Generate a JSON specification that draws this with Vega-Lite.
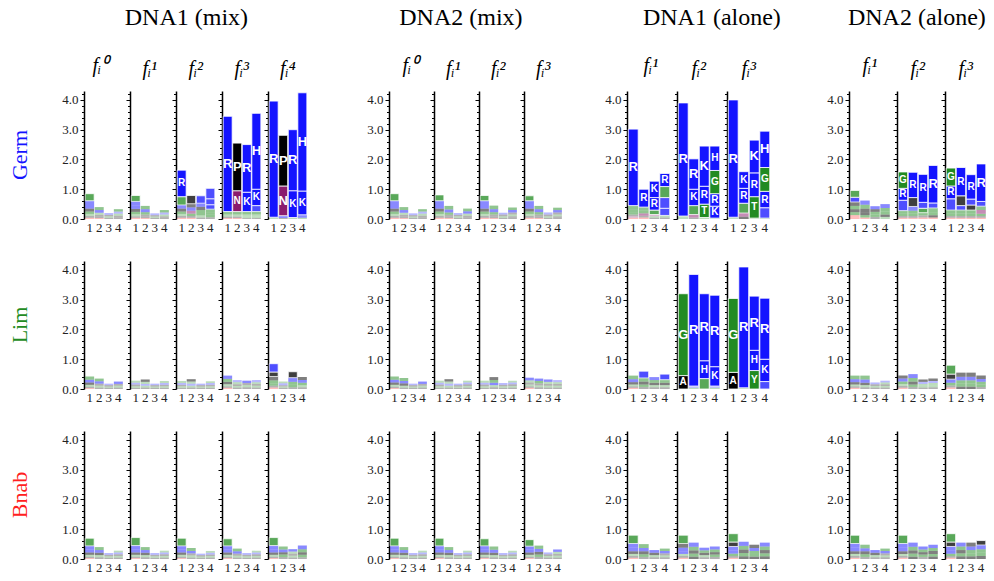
{
"$schema": "https://vega.github.io/schema/vega-lite/v6.json",
"background": "white",
"padding": {"left": 8, "top": 5, "right": 3, "bottom": 3},
"data": {"values": [
{"g":"m1","r":"Germ","f":0,"p":1,"a":["E","A","S","T","V","K","R","G"],"h":[0.04,0.06,0.07,0.08,0.1,0.12,0.14,0.24]},
{"g":"m1","r":"Germ","f":0,"p":2,"a":["D","A","V","S","R","G"],"h":[0.03,0.05,0.06,0.07,0.09,0.1]},
{"g":"m1","r":"Germ","f":0,"p":3,"a":["A","S","L","R"],"h":[0.04,0.05,0.05,0.06]},
{"g":"m1","r":"Germ","f":0,"p":4,"a":["A","L","S","R","G"],"h":[0.05,0.06,0.07,0.07,0.08]},
{"g":"m1","r":"Germ","f":1,"p":1,"a":["E","A","S","T","V","K","R","G"],"h":[0.04,0.05,0.07,0.08,0.1,0.12,0.13,0.2]},
{"g":"m1","r":"Germ","f":1,"p":2,"a":["D","A","V","S","R","G"],"h":[0.03,0.05,0.07,0.08,0.1,0.11]},
{"g":"m1","r":"Germ","f":1,"p":3,"a":["A","S","L","R"],"h":[0.04,0.04,0.05,0.06]},
{"g":"m1","r":"Germ","f":1,"p":4,"a":["A","L","S","R","G"],"h":[0.04,0.05,0.06,0.07,0.08]},
{"g":"m1","r":"Germ","f":2,"p":1,"a":["E","A","S","T","V","K","G","R"],"h":[0.04,0.06,0.07,0.08,0.1,0.12,0.28,0.89]},
{"g":"m1","r":"Germ","f":2,"p":2,"a":["D","A","S","N","K","V","P"],"h":[0.04,0.06,0.08,0.1,0.11,0.12,0.28]},
{"g":"m1","r":"Germ","f":2,"p":3,"a":["A","S","T","G","V","K","R"],"h":[0.05,0.07,0.08,0.1,0.11,0.12,0.25]},
{"g":"m1","r":"Germ","f":2,"p":4,"a":["A","S","T","G","K","R","H"],"h":[0.06,0.08,0.09,0.1,0.15,0.2,0.35]},
{"g":"m1","r":"Germ","f":3,"p":1,"a":["E","A","S","G","R"],"h":[0.03,0.05,0.07,0.1,3.2]},
{"g":"m1","r":"Germ","f":3,"p":2,"a":["D","A","S","G","N","P"],"h":[0.03,0.05,0.07,0.1,0.7,1.6]},
{"g":"m1","r":"Germ","f":3,"p":3,"a":["A","S","T","G","K","R"],"h":[0.03,0.05,0.07,0.1,0.65,1.6]},
{"g":"m1","r":"Germ","f":3,"p":4,"a":["A","S","G","T","R","K","H"],"h":[0.03,0.05,0.07,0.1,0.2,0.55,2.55]},
{"g":"m1","r":"Germ","f":4,"p":1,"a":["S","G","R"],"h":[0.02,0.04,3.9]},
{"g":"m1","r":"Germ","f":4,"p":2,"a":["A","H","N","P"],"h":[0.03,0.08,1.0,1.7]},
{"g":"m1","r":"Germ","f":4,"p":3,"a":["S","K","R"],"h":[0.05,0.9,2.05]},
{"g":"m1","r":"Germ","f":4,"p":4,"a":["S","R","K","H"],"h":[0.04,0.1,0.8,3.3]},
{"g":"m2","r":"Germ","f":0,"p":1,"a":["E","A","S","T","V","K","R","G"],"h":[0.04,0.06,0.07,0.08,0.1,0.12,0.14,0.24]},
{"g":"m2","r":"Germ","f":0,"p":2,"a":["D","A","V","S","R","G"],"h":[0.03,0.05,0.06,0.07,0.09,0.1]},
{"g":"m2","r":"Germ","f":0,"p":3,"a":["A","S","L","R"],"h":[0.04,0.04,0.05,0.06]},
{"g":"m2","r":"Germ","f":0,"p":4,"a":["A","L","S","R","G"],"h":[0.05,0.06,0.07,0.07,0.08]},
{"g":"m2","r":"Germ","f":1,"p":1,"a":["E","A","S","T","V","K","R","G"],"h":[0.04,0.06,0.07,0.08,0.1,0.12,0.14,0.2]},
{"g":"m2","r":"Germ","f":1,"p":2,"a":["D","A","V","S","R","G"],"h":[0.03,0.05,0.06,0.08,0.1,0.12]},
{"g":"m2","r":"Germ","f":1,"p":3,"a":["A","S","L","R"],"h":[0.04,0.05,0.05,0.06]},
{"g":"m2","r":"Germ","f":1,"p":4,"a":["A","L","S","R","G"],"h":[0.05,0.06,0.07,0.08,0.09]},
{"g":"m2","r":"Germ","f":2,"p":1,"a":["E","A","S","T","V","K","R","G"],"h":[0.04,0.06,0.07,0.08,0.1,0.12,0.14,0.18]},
{"g":"m2","r":"Germ","f":2,"p":2,"a":["D","A","V","S","R","G"],"h":[0.03,0.05,0.07,0.08,0.1,0.12]},
{"g":"m2","r":"Germ","f":2,"p":3,"a":["A","S","L","R"],"h":[0.04,0.05,0.06,0.06]},
{"g":"m2","r":"Germ","f":2,"p":4,"a":["A","L","S","V","R","G"],"h":[0.04,0.05,0.06,0.07,0.08,0.09]},
{"g":"m2","r":"Germ","f":3,"p":1,"a":["E","A","S","T","V","K","R","G"],"h":[0.04,0.06,0.07,0.08,0.1,0.12,0.14,0.17]},
{"g":"m2","r":"Germ","f":3,"p":2,"a":["D","A","V","S","R","G"],"h":[0.03,0.05,0.07,0.08,0.1,0.11]},
{"g":"m2","r":"Germ","f":3,"p":3,"a":["A","S","L","R"],"h":[0.04,0.05,0.06,0.07]},
{"g":"m2","r":"Germ","f":3,"p":4,"a":["A","L","S","V","R","G"],"h":[0.04,0.05,0.06,0.07,0.08,0.08]},
{"g":"a1","r":"Germ","f":1,"p":1,"a":["E","N","A","S","T","G","R"],"h":[0.04,0.05,0.06,0.08,0.1,0.12,2.57]},
{"g":"a1","r":"Germ","f":1,"p":2,"a":["D","A","N","S","G","R"],"h":[0.05,0.06,0.08,0.09,0.12,0.6]},
{"g":"a1","r":"Germ","f":1,"p":3,"a":["A","S","N","T","R","K"],"h":[0.04,0.05,0.06,0.15,0.42,0.55]},
{"g":"a1","r":"Germ","f":1,"p":4,"a":["A","S","K","H","G","R"],"h":[0.05,0.07,0.24,0.36,0.37,0.44]},
{"g":"a1","r":"Germ","f":2,"p":1,"a":["S","G","R"],"h":[0.04,0.06,3.8]},
{"g":"a1","r":"Germ","f":2,"p":2,"a":["A","N","S","K","R"],"h":[0.05,0.1,0.3,0.55,1.02]},
{"g":"a1","r":"Germ","f":2,"p":3,"a":["S","T","R","K"],"h":[0.05,0.45,0.6,1.35]},
{"g":"a1","r":"Germ","f":2,"p":4,"a":["S","K","R","G","H"],"h":[0.03,0.4,0.42,0.78,0.82]},
{"g":"a1","r":"Germ","f":3,"p":1,"a":["S","G","R"],"h":[0.02,0.04,3.94]},
{"g":"a1","r":"Germ","f":3,"p":2,"a":["A","N","S","R","K"],"h":[0.08,0.12,0.33,0.5,0.56]},
{"g":"a1","r":"Germ","f":3,"p":3,"a":["S","T","R","K"],"h":[0.03,0.72,0.8,1.1]},
{"g":"a1","r":"Germ","f":3,"p":4,"a":["S","K","R","G","H"],"h":[0.03,0.35,0.55,0.8,1.22]},
{"g":"a2","r":"Germ","f":1,"p":1,"a":["D","E","S","A","T","V","R","G"],"h":[0.06,0.07,0.1,0.1,0.11,0.13,0.16,0.23]},
{"g":"a2","r":"Germ","f":1,"p":2,"a":["D","S","A","V","G","R"],"h":[0.05,0.08,0.1,0.12,0.13,0.14]},
{"g":"a2","r":"Germ","f":1,"p":3,"a":["A","S","G","L","R"],"h":[0.07,0.08,0.09,0.09,0.1]},
{"g":"a2","r":"Germ","f":1,"p":4,"a":["S","A","T","G","R"],"h":[0.07,0.08,0.1,0.12,0.13]},
{"g":"a2","r":"Germ","f":2,"p":1,"a":["E","A","S","T","K","R","G"],"h":[0.04,0.06,0.08,0.1,0.35,0.4,0.55]},
{"g":"a2","r":"Germ","f":2,"p":2,"a":["D","A","S","G","K","V","R"],"h":[0.04,0.06,0.08,0.1,0.14,0.3,0.85]},
{"g":"a2","r":"Germ","f":2,"p":3,"a":["E","A","S","G","K","R"],"h":[0.05,0.07,0.09,0.15,0.2,0.94]},
{"g":"a2","r":"Germ","f":2,"p":4,"a":["D","A","S","G","K","R"],"h":[0.05,0.08,0.1,0.14,0.17,1.26]},
{"g":"a2","r":"Germ","f":3,"p":1,"a":["E","A","S","T","K","R","G"],"h":[0.04,0.06,0.08,0.12,0.38,0.43,0.6]},
{"g":"a2","r":"Germ","f":3,"p":2,"a":["D","A","S","G","K","V","R"],"h":[0.04,0.06,0.08,0.12,0.15,0.33,0.95]},
{"g":"a2","r":"Germ","f":3,"p":3,"a":["E","A","S","G","V","K","R"],"h":[0.04,0.06,0.08,0.12,0.17,0.2,0.82]},
{"g":"a2","r":"Germ","f":3,"p":4,"a":["D","A","S","N","G","K","R"],"h":[0.04,0.06,0.08,0.12,0.13,0.16,1.26]},
{"g":"m1","r":"Lim","f":0,"p":1,"a":["E","A","S","V","R","G"],"h":[0.03,0.05,0.06,0.08,0.09,0.11]},
{"g":"m1","r":"Lim","f":0,"p":2,"a":["A","S","V","R","G"],"h":[0.05,0.06,0.07,0.08,0.09]},
{"g":"m1","r":"Lim","f":0,"p":3,"a":["A","S","L","R"],"h":[0.04,0.04,0.05,0.05]},
{"g":"m1","r":"Lim","f":0,"p":4,"a":["A","S","L","R"],"h":[0.05,0.06,0.06,0.08]},
{"g":"m1","r":"Lim","f":1,"p":1,"a":["A","S","V","R","G"],"h":[0.04,0.05,0.06,0.06,0.07]},
{"g":"m1","r":"Lim","f":1,"p":2,"a":["A","S","R","G","V"],"h":[0.05,0.06,0.06,0.07,0.08]},
{"g":"m1","r":"Lim","f":1,"p":3,"a":["A","S","L","R"],"h":[0.04,0.04,0.05,0.05]},
{"g":"m1","r":"Lim","f":1,"p":4,"a":["A","S","L","R","G"],"h":[0.04,0.05,0.05,0.06,0.07]},
{"g":"m1","r":"Lim","f":2,"p":1,"a":["A","S","V","R","G"],"h":[0.04,0.05,0.05,0.06,0.07]},
{"g":"m1","r":"Lim","f":2,"p":2,"a":["A","S","R","G","V"],"h":[0.05,0.06,0.07,0.07,0.08]},
{"g":"m1","r":"Lim","f":2,"p":3,"a":["A","S","L","R"],"h":[0.04,0.04,0.05,0.05]},
{"g":"m1","r":"Lim","f":2,"p":4,"a":["A","S","L","R","G"],"h":[0.04,0.05,0.05,0.06,0.06]},
{"g":"m1","r":"Lim","f":3,"p":1,"a":["E","A","S","V","G","R"],"h":[0.04,0.05,0.07,0.08,0.1,0.11]},
{"g":"m1","r":"Lim","f":3,"p":2,"a":["A","S","V","G","R"],"h":[0.05,0.05,0.06,0.07,0.07]},
{"g":"m1","r":"Lim","f":3,"p":3,"a":["A","S","L","R"],"h":[0.06,0.07,0.07,0.08]},
{"g":"m1","r":"Lim","f":3,"p":4,"a":["A","S","V","G","R"],"h":[0.05,0.06,0.06,0.06,0.07]},
{"g":"m1","r":"Lim","f":4,"p":1,"a":["E","A","S","G","V","W","R"],"h":[0.05,0.06,0.08,0.1,0.13,0.15,0.28]},
{"g":"m1","r":"Lim","f":4,"p":2,"a":["A","S","V","R","G"],"h":[0.04,0.04,0.05,0.06,0.06]},
{"g":"m1","r":"Lim","f":4,"p":3,"a":["A","S","G","R","W"],"h":[0.06,0.08,0.1,0.14,0.2]},
{"g":"m1","r":"Lim","f":4,"p":4,"a":["A","S","G","R","W"],"h":[0.06,0.07,0.08,0.09,0.1]},
{"g":"m2","r":"Lim","f":0,"p":1,"a":["E","A","S","V","R","G"],"h":[0.03,0.05,0.06,0.08,0.09,0.11]},
{"g":"m2","r":"Lim","f":0,"p":2,"a":["A","S","V","R","G"],"h":[0.05,0.06,0.08,0.08,0.1]},
{"g":"m2","r":"Lim","f":0,"p":3,"a":["A","S","L","R"],"h":[0.04,0.04,0.05,0.05]},
{"g":"m2","r":"Lim","f":0,"p":4,"a":["A","S","L","R"],"h":[0.05,0.06,0.06,0.08]},
{"g":"m2","r":"Lim","f":1,"p":1,"a":["A","S","V","R","G"],"h":[0.04,0.05,0.06,0.06,0.07]},
{"g":"m2","r":"Lim","f":1,"p":2,"a":["A","S","R","G","V"],"h":[0.05,0.06,0.07,0.07,0.08]},
{"g":"m2","r":"Lim","f":1,"p":3,"a":["A","S","L","R"],"h":[0.04,0.04,0.05,0.05]},
{"g":"m2","r":"Lim","f":1,"p":4,"a":["A","S","L","R","G"],"h":[0.05,0.05,0.06,0.06,0.06]},
{"g":"m2","r":"Lim","f":2,"p":1,"a":["A","S","V","R","G"],"h":[0.04,0.05,0.06,0.06,0.07]},
{"g":"m2","r":"Lim","f":2,"p":2,"a":["A","S","R","G","V"],"h":[0.06,0.07,0.08,0.09,0.1]},
{"g":"m2","r":"Lim","f":2,"p":3,"a":["A","S","L","R"],"h":[0.04,0.05,0.05,0.06]},
{"g":"m2","r":"Lim","f":2,"p":4,"a":["A","S","L","R","G"],"h":[0.05,0.05,0.06,0.06,0.06]},
{"g":"m2","r":"Lim","f":3,"p":1,"a":["E","A","S","V","G","R"],"h":[0.04,0.05,0.06,0.07,0.07,0.09]},
{"g":"m2","r":"Lim","f":3,"p":2,"a":["A","S","V","G","R"],"h":[0.06,0.06,0.07,0.08,0.08]},
{"g":"m2","r":"Lim","f":3,"p":3,"a":["A","S","V","G","R"],"h":[0.05,0.06,0.06,0.07,0.08]},
{"g":"m2","r":"Lim","f":3,"p":4,"a":["A","S","V","G","R"],"h":[0.05,0.06,0.06,0.06,0.07]},
{"g":"a1","r":"Lim","f":1,"p":1,"a":["E","A","S","V","R","G"],"h":[0.04,0.05,0.06,0.08,0.1,0.12]},
{"g":"a1","r":"Lim","f":1,"p":2,"a":["A","S","V","G","R"],"h":[0.07,0.08,0.1,0.12,0.23]},
{"g":"a1","r":"Lim","f":1,"p":3,"a":["A","S","V","G","R"],"h":[0.06,0.07,0.08,0.09,0.1]},
{"g":"a1","r":"Lim","f":1,"p":4,"a":["A","S","V","G","R"],"h":[0.06,0.07,0.08,0.1,0.19]},
{"g":"a1","r":"Lim","f":2,"p":1,"a":["A","G"],"h":[0.45,2.75]},
{"g":"a1","r":"Lim","f":2,"p":2,"a":["S","H","R"],"h":[0.04,0.06,3.75]},
{"g":"a1","r":"Lim","f":2,"p":3,"a":["Y","H","R"],"h":[0.35,0.6,2.25]},
{"g":"a1","r":"Lim","f":2,"p":4,"a":["S","H","K","R"],"h":[0.04,0.06,0.65,2.4]},
{"g":"a1","r":"Lim","f":3,"p":1,"a":["A","G"],"h":[0.56,2.48]},
{"g":"a1","r":"Lim","f":3,"p":2,"a":["S","R"],"h":[0.04,4.06]},
{"g":"a1","r":"Lim","f":3,"p":3,"a":["Y","H","R"],"h":[0.62,0.68,1.82]},
{"g":"a1","r":"Lim","f":3,"p":4,"a":["H","K","R"],"h":[0.25,0.75,2.05]},
{"g":"a2","r":"Lim","f":1,"p":1,"a":["E","A","S","V","R","G"],"h":[0.04,0.05,0.06,0.08,0.1,0.12]},
{"g":"a2","r":"Lim","f":1,"p":2,"a":["A","S","V","R","G"],"h":[0.06,0.07,0.08,0.11,0.13]},
{"g":"a2","r":"Lim","f":1,"p":3,"a":["A","S","L","R"],"h":[0.05,0.05,0.06,0.06]},
{"g":"a2","r":"Lim","f":1,"p":4,"a":["A","S","L","G","R"],"h":[0.05,0.05,0.06,0.06,0.06]},
{"g":"a2","r":"Lim","f":2,"p":1,"a":["E","A","S","G","R","V"],"h":[0.04,0.06,0.07,0.08,0.1,0.1]},
{"g":"a2","r":"Lim","f":2,"p":2,"a":["A","S","V","G","R"],"h":[0.07,0.08,0.1,0.12,0.13]},
{"g":"a2","r":"Lim","f":2,"p":3,"a":["A","S","G","R","V"],"h":[0.05,0.06,0.06,0.07,0.08]},
{"g":"a2","r":"Lim","f":2,"p":4,"a":["A","S","G","R","V"],"h":[0.06,0.07,0.07,0.07,0.08]},
{"g":"a2","r":"Lim","f":3,"p":1,"a":["E","A","S","R","V","G"],"h":[0.05,0.07,0.09,0.12,0.17,0.3]},
{"g":"a2","r":"Lim","f":3,"p":2,"a":["A","S","G","R","V"],"h":[0.08,0.1,0.11,0.12,0.14]},
{"g":"a2","r":"Lim","f":3,"p":3,"a":["A","S","G","R","V"],"h":[0.08,0.1,0.11,0.12,0.14]},
{"g":"a2","r":"Lim","f":3,"p":4,"a":["A","S","G","R","V"],"h":[0.07,0.08,0.09,0.1,0.11]},
{"g":"m1","r":"Bnab","f":0,"p":1,"a":["E","A","S","V","K","R","G"],"h":[0.03,0.05,0.06,0.08,0.1,0.12,0.26]},
{"g":"m1","r":"Bnab","f":0,"p":2,"a":["A","S","V","R","G"],"h":[0.06,0.07,0.08,0.09,0.1]},
{"g":"m1","r":"Bnab","f":0,"p":3,"a":["A","S","L","R"],"h":[0.04,0.05,0.05,0.06]},
{"g":"m1","r":"Bnab","f":0,"p":4,"a":["A","S","L","R","G"],"h":[0.05,0.05,0.06,0.06,0.06]},
{"g":"m1","r":"Bnab","f":1,"p":1,"a":["E","A","S","V","K","R","G"],"h":[0.03,0.05,0.06,0.08,0.1,0.13,0.27]},
{"g":"m1","r":"Bnab","f":1,"p":2,"a":["A","S","V","R","G"],"h":[0.06,0.07,0.08,0.09,0.1]},
{"g":"m1","r":"Bnab","f":1,"p":3,"a":["A","S","L","R"],"h":[0.04,0.05,0.05,0.06]},
{"g":"m1","r":"Bnab","f":1,"p":4,"a":["A","S","L","R","G"],"h":[0.05,0.05,0.06,0.06,0.06]},
{"g":"m1","r":"Bnab","f":2,"p":1,"a":["E","A","S","V","K","R","G"],"h":[0.03,0.05,0.06,0.08,0.1,0.12,0.26]},
{"g":"m1","r":"Bnab","f":2,"p":2,"a":["A","S","V","R","G"],"h":[0.05,0.07,0.07,0.08,0.1]},
{"g":"m1","r":"Bnab","f":2,"p":3,"a":["A","S","L","R"],"h":[0.04,0.04,0.05,0.05]},
{"g":"m1","r":"Bnab","f":2,"p":4,"a":["A","S","L","R","G"],"h":[0.05,0.05,0.05,0.06,0.06]},
{"g":"m1","r":"Bnab","f":3,"p":1,"a":["E","A","S","V","K","R","G"],"h":[0.03,0.05,0.06,0.08,0.1,0.12,0.24]},
{"g":"m1","r":"Bnab","f":3,"p":2,"a":["A","S","V","R","G"],"h":[0.05,0.06,0.07,0.08,0.09]},
{"g":"m1","r":"Bnab","f":3,"p":3,"a":["A","S","L","R"],"h":[0.04,0.05,0.05,0.06]},
{"g":"m1","r":"Bnab","f":3,"p":4,"a":["A","S","L","R","G"],"h":[0.05,0.05,0.06,0.06,0.06]},
{"g":"m1","r":"Bnab","f":4,"p":1,"a":["E","A","S","V","K","R","G"],"h":[0.03,0.05,0.06,0.08,0.1,0.13,0.27]},
{"g":"m1","r":"Bnab","f":4,"p":2,"a":["A","S","V","R","G"],"h":[0.07,0.08,0.08,0.09,0.1]},
{"g":"m1","r":"Bnab","f":4,"p":3,"a":["A","S","V","G","R"],"h":[0.05,0.06,0.07,0.07,0.08]},
{"g":"m1","r":"Bnab","f":4,"p":4,"a":["A","S","V","G","K"],"h":[0.06,0.08,0.09,0.1,0.12]},
{"g":"m2","r":"Bnab","f":0,"p":1,"a":["E","A","S","V","K","R","G"],"h":[0.03,0.05,0.06,0.08,0.1,0.12,0.26]},
{"g":"m2","r":"Bnab","f":0,"p":2,"a":["A","S","V","R","G"],"h":[0.06,0.07,0.08,0.09,0.1]},
{"g":"m2","r":"Bnab","f":0,"p":3,"a":["A","S","L","R"],"h":[0.04,0.05,0.05,0.06]},
{"g":"m2","r":"Bnab","f":0,"p":4,"a":["A","S","L","R","G"],"h":[0.05,0.05,0.06,0.06,0.06]},
{"g":"m2","r":"Bnab","f":1,"p":1,"a":["E","A","S","V","K","R","G"],"h":[0.03,0.05,0.06,0.08,0.1,0.12,0.26]},
{"g":"m2","r":"Bnab","f":1,"p":2,"a":["A","S","V","R","G"],"h":[0.06,0.07,0.08,0.09,0.1]},
{"g":"m2","r":"Bnab","f":1,"p":3,"a":["A","S","L","R"],"h":[0.04,0.05,0.05,0.06]},
{"g":"m2","r":"Bnab","f":1,"p":4,"a":["A","S","L","R","G"],"h":[0.05,0.05,0.06,0.06,0.06]},
{"g":"m2","r":"Bnab","f":2,"p":1,"a":["E","A","S","V","K","R","G"],"h":[0.03,0.05,0.06,0.08,0.1,0.12,0.24]},
{"g":"m2","r":"Bnab","f":2,"p":2,"a":["A","S","V","R","G"],"h":[0.06,0.07,0.08,0.1,0.11]},
{"g":"m2","r":"Bnab","f":2,"p":3,"a":["A","S","L","R"],"h":[0.04,0.05,0.05,0.06]},
{"g":"m2","r":"Bnab","f":2,"p":4,"a":["A","S","L","R","G"],"h":[0.05,0.05,0.06,0.06,0.06]},
{"g":"m2","r":"Bnab","f":3,"p":1,"a":["E","A","S","V","K","R","G"],"h":[0.03,0.05,0.06,0.08,0.1,0.11,0.22]},
{"g":"m2","r":"Bnab","f":3,"p":2,"a":["A","S","V","R","G"],"h":[0.07,0.08,0.09,0.1,0.11]},
{"g":"m2","r":"Bnab","f":3,"p":3,"a":["A","S","L","R"],"h":[0.05,0.05,0.06,0.06]},
{"g":"m2","r":"Bnab","f":3,"p":4,"a":["A","S","V","G","R"],"h":[0.05,0.06,0.06,0.07,0.08]},
{"g":"a1","r":"Bnab","f":1,"p":1,"a":["E","A","S","V","K","R","G"],"h":[0.04,0.06,0.07,0.09,0.12,0.14,0.28]},
{"g":"a1","r":"Bnab","f":1,"p":2,"a":["A","S","V","R","G"],"h":[0.07,0.09,0.1,0.11,0.13]},
{"g":"a1","r":"Bnab","f":1,"p":3,"a":["A","S","L","R"],"h":[0.06,0.07,0.08,0.09]},
{"g":"a1","r":"Bnab","f":1,"p":4,"a":["A","S","L","R","G"],"h":[0.06,0.06,0.07,0.08,0.08]},
{"g":"a1","r":"Bnab","f":2,"p":1,"a":["E","A","S","K","R","V","G"],"h":[0.04,0.06,0.07,0.09,0.12,0.14,0.28]},
{"g":"a1","r":"Bnab","f":2,"p":2,"a":["A","S","V","G","R"],"h":[0.08,0.1,0.11,0.12,0.14]},
{"g":"a1","r":"Bnab","f":2,"p":3,"a":["A","S","V","G","R"],"h":[0.06,0.07,0.08,0.08,0.09]},
{"g":"a1","r":"Bnab","f":2,"p":4,"a":["A","S","V","G","R"],"h":[0.07,0.08,0.08,0.09,0.1]},
{"g":"a1","r":"Bnab","f":3,"p":1,"a":["E","A","S","K","R","V","G"],"h":[0.04,0.06,0.08,0.1,0.14,0.15,0.28]},
{"g":"a1","r":"Bnab","f":3,"p":2,"a":["A","S","V","G","R"],"h":[0.09,0.11,0.12,0.12,0.14]},
{"g":"a1","r":"Bnab","f":3,"p":3,"a":["A","S","G","R","V"],"h":[0.08,0.09,0.1,0.1,0.11]},
{"g":"a1","r":"Bnab","f":3,"p":4,"a":["A","S","V","G","R"],"h":[0.09,0.1,0.11,0.12,0.13]},
{"g":"a2","r":"Bnab","f":1,"p":1,"a":["E","A","S","V","K","R","G"],"h":[0.04,0.06,0.07,0.09,0.12,0.14,0.28]},
{"g":"a2","r":"Bnab","f":1,"p":2,"a":["A","S","V","R","G"],"h":[0.07,0.09,0.1,0.1,0.12]},
{"g":"a2","r":"Bnab","f":1,"p":3,"a":["A","S","L","R"],"h":[0.06,0.07,0.08,0.09]},
{"g":"a2","r":"Bnab","f":1,"p":4,"a":["A","S","L","R","G"],"h":[0.06,0.06,0.07,0.08,0.08]},
{"g":"a2","r":"Bnab","f":2,"p":1,"a":["E","A","S","V","K","R","G"],"h":[0.04,0.06,0.07,0.09,0.12,0.14,0.28]},
{"g":"a2","r":"Bnab","f":2,"p":2,"a":["A","S","V","G","R"],"h":[0.08,0.1,0.11,0.12,0.14]},
{"g":"a2","r":"Bnab","f":2,"p":3,"a":["A","S","V","G","R"],"h":[0.07,0.08,0.08,0.09,0.1]},
{"g":"a2","r":"Bnab","f":2,"p":4,"a":["A","S","V","G","R"],"h":[0.08,0.09,0.1,0.1,0.11]},
{"g":"a2","r":"Bnab","f":3,"p":1,"a":["E","A","S","K","R","V","G"],"h":[0.04,0.06,0.08,0.1,0.14,0.15,0.28]},
{"g":"a2","r":"Bnab","f":3,"p":2,"a":["A","S","V","G","R"],"h":[0.09,0.1,0.11,0.12,0.13]},
{"g":"a2","r":"Bnab","f":3,"p":3,"a":["A","S","G","R","V"],"h":[0.09,0.1,0.11,0.12,0.13]},
{"g":"a2","r":"Bnab","f":3,"p":4,"a":["A","S","G","R","V"],"h":[0.1,0.11,0.12,0.14,0.15]}
]},
"transform": [
  {"flatten": ["a", "h"]},
  {"stack": "h", "groupby": ["g", "r", "f", "p"], "sort": [{"field": "h", "order": "ascending"}], "as": ["y0", "y1"]},
  {"calculate": "(datum.y0 + datum.y1) / 2", "as": "ym"}
],
"spacing": 41,
"hconcat": [
 {"spacing": 58, "hconcat": [
  {"title": {"text": "DNA1 (mix)", "font": "Liberation Serif", "fontSize": 24, "offset": 26, "dx": 28}, "spacing": 1, "hconcat": [
   {"title": {"text": "fᵢ⁰", "font": "Liberation Serif", "fontSize": 20, "fontStyle": "italic", "offset": 12, "dx": 34}, "transform": [{"filter": "datum.g == 'm1' && datum.f == 0"}],
    "facet": {"row": {"field": "r", "type": "nominal", "title": null, "sort": ["Germ", "Lim", "Bnab"], "header": {"labelColor": {"expr": "parent.r == 'Germ' ? '#1414ff' : parent.r == 'Lim' ? '#228b22' : '#ff2020'"}, "labelPadding": 30}}},
    "spacing": {"row": 27}, "resolve": {"axis": {"x": "independent"}},
    "spec": {"width": 40, "height": 128,
     "encoding": {"x": {"field": "p", "type": "ordinal", "title": null, "axis": {"labelFont": "Liberation Serif"}}, "y": {"field": "y0", "type": "quantitative", "title": null, "scale": {"domain": [0, 4.3], "nice": false}, "axis": {"labelFont": "Liberation Serif"}}},
     "layer": [
      {"mark": {"type": "bar", "stroke": "white"}, "encoding": {"y2": {"field": "y1"}, "color": {"field": "a", "type": "nominal", "legend": null, "scale": {"domain": ["A","V","L","W","P","G","S","T","Y","N","K","R","H","D","E"], "range": ["#000000","#000000","#000000","#000000","#000000","#228b22","#228b22","#228b22","#228b22","#8b1c6e","#1414ff","#1414ff","#1414ff","#ff2020","#ff2020"]}}, "opacity": {"condition": [{"test": "datum.h < 0.08", "value": 0.3}, {"test": "datum.h < 0.15", "value": 0.5}, {"test": "datum.h < 0.4", "value": 0.75}], "value": 1}, "strokeWidth": {"condition": {"test": "datum.h >= 0.15", "value": 0.8}, "value": 0}}},
      {"transform": [{"filter": "datum.h >= 0.4"}], "mark": {"type": "text", "font": "Liberation Sans", "fontWeight": "bold", "fill": "white"}, "encoding": {"y": {"field": "ym", "type": "quantitative", "title": null}, "text": {"field": "a"}, "size": {"condition": {"test": "datum.h >= 1", "value": 13}, "value": 10}}}
     ]}},
   {"title": {"text": "fᵢ¹", "font": "Liberation Serif", "fontSize": 20, "fontStyle": "italic", "offset": 12, "dx": 2}, "transform": [{"filter": "datum.g == 'm1' && datum.f == 1"}],
    "facet": {"row": {"field": "r", "type": "nominal", "title": null, "sort": ["Germ", "Lim", "Bnab"], "header": {"labels": false}}},
    "spacing": {"row": 27}, "resolve": {"axis": {"x": "independent"}},
    "spec": {"width": 40, "height": 128,
     "encoding": {"x": {"field": "p", "type": "ordinal", "title": null, "axis": {"labelFont": "Liberation Serif"}}, "y": {"field": "y0", "type": "quantitative", "title": null, "scale": {"domain": [0, 4.3], "nice": false}, "axis": {"labels": false}}},
     "layer": [
      {"mark": {"type": "bar", "stroke": "white"}, "encoding": {"y2": {"field": "y1"}, "color": {"field": "a", "type": "nominal", "legend": null, "scale": {"domain": ["A","V","L","W","P","G","S","T","Y","N","K","R","H","D","E"], "range": ["#000000","#000000","#000000","#000000","#000000","#228b22","#228b22","#228b22","#228b22","#8b1c6e","#1414ff","#1414ff","#1414ff","#ff2020","#ff2020"]}}, "opacity": {"condition": [{"test": "datum.h < 0.08", "value": 0.3}, {"test": "datum.h < 0.15", "value": 0.5}, {"test": "datum.h < 0.4", "value": 0.75}], "value": 1}, "strokeWidth": {"condition": {"test": "datum.h >= 0.15", "value": 0.8}, "value": 0}}},
      {"transform": [{"filter": "datum.h >= 0.4"}], "mark": {"type": "text", "font": "Liberation Sans", "fontWeight": "bold", "fill": "white"}, "encoding": {"y": {"field": "ym", "type": "quantitative", "title": null}, "text": {"field": "a"}, "size": {"condition": {"test": "datum.h >= 1", "value": 13}, "value": 10}}}
     ]}},
   {"title": {"text": "fᵢ²", "font": "Liberation Serif", "fontSize": 20, "fontStyle": "italic", "offset": 12, "dx": 2}, "transform": [{"filter": "datum.g == 'm1' && datum.f == 2"}],
    "facet": {"row": {"field": "r", "type": "nominal", "title": null, "sort": ["Germ", "Lim", "Bnab"], "header": {"labels": false}}},
    "spacing": {"row": 27}, "resolve": {"axis": {"x": "independent"}},
    "spec": {"width": 40, "height": 128,
     "encoding": {"x": {"field": "p", "type": "ordinal", "title": null, "axis": {"labelFont": "Liberation Serif"}}, "y": {"field": "y0", "type": "quantitative", "title": null, "scale": {"domain": [0, 4.3], "nice": false}, "axis": {"labels": false}}},
     "layer": [
      {"mark": {"type": "bar", "stroke": "white"}, "encoding": {"y2": {"field": "y1"}, "color": {"field": "a", "type": "nominal", "legend": null, "scale": {"domain": ["A","V","L","W","P","G","S","T","Y","N","K","R","H","D","E"], "range": ["#000000","#000000","#000000","#000000","#000000","#228b22","#228b22","#228b22","#228b22","#8b1c6e","#1414ff","#1414ff","#1414ff","#ff2020","#ff2020"]}}, "opacity": {"condition": [{"test": "datum.h < 0.08", "value": 0.3}, {"test": "datum.h < 0.15", "value": 0.5}, {"test": "datum.h < 0.4", "value": 0.75}], "value": 1}, "strokeWidth": {"condition": {"test": "datum.h >= 0.15", "value": 0.8}, "value": 0}}},
      {"transform": [{"filter": "datum.h >= 0.4"}], "mark": {"type": "text", "font": "Liberation Sans", "fontWeight": "bold", "fill": "white"}, "encoding": {"y": {"field": "ym", "type": "quantitative", "title": null}, "text": {"field": "a"}, "size": {"condition": {"test": "datum.h >= 1", "value": 13}, "value": 10}}}
     ]}},
   {"title": {"text": "fᵢ³", "font": "Liberation Serif", "fontSize": 20, "fontStyle": "italic", "offset": 12, "dx": 2}, "transform": [{"filter": "datum.g == 'm1' && datum.f == 3"}],
    "facet": {"row": {"field": "r", "type": "nominal", "title": null, "sort": ["Germ", "Lim", "Bnab"], "header": {"labels": false}}},
    "spacing": {"row": 27}, "resolve": {"axis": {"x": "independent"}},
    "spec": {"width": 40, "height": 128,
     "encoding": {"x": {"field": "p", "type": "ordinal", "title": null, "axis": {"labelFont": "Liberation Serif"}}, "y": {"field": "y0", "type": "quantitative", "title": null, "scale": {"domain": [0, 4.3], "nice": false}, "axis": {"labels": false}}},
     "layer": [
      {"mark": {"type": "bar", "stroke": "white"}, "encoding": {"y2": {"field": "y1"}, "color": {"field": "a", "type": "nominal", "legend": null, "scale": {"domain": ["A","V","L","W","P","G","S","T","Y","N","K","R","H","D","E"], "range": ["#000000","#000000","#000000","#000000","#000000","#228b22","#228b22","#228b22","#228b22","#8b1c6e","#1414ff","#1414ff","#1414ff","#ff2020","#ff2020"]}}, "opacity": {"condition": [{"test": "datum.h < 0.08", "value": 0.3}, {"test": "datum.h < 0.15", "value": 0.5}, {"test": "datum.h < 0.4", "value": 0.75}], "value": 1}, "strokeWidth": {"condition": {"test": "datum.h >= 0.15", "value": 0.8}, "value": 0}}},
      {"transform": [{"filter": "datum.h >= 0.4"}], "mark": {"type": "text", "font": "Liberation Sans", "fontWeight": "bold", "fill": "white"}, "encoding": {"y": {"field": "ym", "type": "quantitative", "title": null}, "text": {"field": "a"}, "size": {"condition": {"test": "datum.h >= 1", "value": 13}, "value": 10}}}
     ]}},
   {"title": {"text": "fᵢ⁴", "font": "Liberation Serif", "fontSize": 20, "fontStyle": "italic", "offset": 12, "dx": 2}, "transform": [{"filter": "datum.g == 'm1' && datum.f == 4"}],
    "facet": {"row": {"field": "r", "type": "nominal", "title": null, "sort": ["Germ", "Lim", "Bnab"], "header": {"labels": false}}},
    "spacing": {"row": 27}, "resolve": {"axis": {"x": "independent"}},
    "spec": {"width": 40, "height": 128,
     "encoding": {"x": {"field": "p", "type": "ordinal", "title": null, "axis": {"labelFont": "Liberation Serif"}}, "y": {"field": "y0", "type": "quantitative", "title": null, "scale": {"domain": [0, 4.3], "nice": false}, "axis": {"labels": false}}},
     "layer": [
      {"mark": {"type": "bar", "stroke": "white"}, "encoding": {"y2": {"field": "y1"}, "color": {"field": "a", "type": "nominal", "legend": null, "scale": {"domain": ["A","V","L","W","P","G","S","T","Y","N","K","R","H","D","E"], "range": ["#000000","#000000","#000000","#000000","#000000","#228b22","#228b22","#228b22","#228b22","#8b1c6e","#1414ff","#1414ff","#1414ff","#ff2020","#ff2020"]}}, "opacity": {"condition": [{"test": "datum.h < 0.08", "value": 0.3}, {"test": "datum.h < 0.15", "value": 0.5}, {"test": "datum.h < 0.4", "value": 0.75}], "value": 1}, "strokeWidth": {"condition": {"test": "datum.h >= 0.15", "value": 0.8}, "value": 0}}},
      {"transform": [{"filter": "datum.h >= 0.4"}], "mark": {"type": "text", "font": "Liberation Sans", "fontWeight": "bold", "fill": "white"}, "encoding": {"y": {"field": "ym", "type": "quantitative", "title": null}, "text": {"field": "a"}, "size": {"condition": {"test": "datum.h >= 1", "value": 13}, "value": 10}}}
     ]}}
  ]},
  {"title": {"text": "DNA2 (mix)", "font": "Liberation Serif", "fontSize": 24, "offset": 26, "dx": -4}, "spacing": 1, "hconcat": [
   {"title": {"text": "fᵢ⁰", "font": "Liberation Serif", "fontSize": 20, "fontStyle": "italic", "offset": 12, "dx": 13}, "transform": [{"filter": "datum.g == 'm2' && datum.f == 0"}],
    "facet": {"row": {"field": "r", "type": "nominal", "title": null, "sort": ["Germ", "Lim", "Bnab"], "header": {"labels": false}}},
    "spacing": {"row": 27}, "resolve": {"axis": {"x": "independent"}},
    "spec": {"width": 39, "height": 128,
     "encoding": {"x": {"field": "p", "type": "ordinal", "title": null, "axis": {"labelFont": "Liberation Serif"}}, "y": {"field": "y0", "type": "quantitative", "title": null, "scale": {"domain": [0, 4.3], "nice": false}, "axis": {"labelFont": "Liberation Serif"}}},
     "layer": [
      {"mark": {"type": "bar", "stroke": "white"}, "encoding": {"y2": {"field": "y1"}, "color": {"field": "a", "type": "nominal", "legend": null, "scale": {"domain": ["A","V","L","W","P","G","S","T","Y","N","K","R","H","D","E"], "range": ["#000000","#000000","#000000","#000000","#000000","#228b22","#228b22","#228b22","#228b22","#8b1c6e","#1414ff","#1414ff","#1414ff","#ff2020","#ff2020"]}}, "opacity": {"condition": [{"test": "datum.h < 0.08", "value": 0.3}, {"test": "datum.h < 0.15", "value": 0.5}, {"test": "datum.h < 0.4", "value": 0.75}], "value": 1}, "strokeWidth": {"condition": {"test": "datum.h >= 0.15", "value": 0.8}, "value": 0}}},
      {"transform": [{"filter": "datum.h >= 0.4"}], "mark": {"type": "text", "font": "Liberation Sans", "fontWeight": "bold", "fill": "white"}, "encoding": {"y": {"field": "ym", "type": "quantitative", "title": null}, "text": {"field": "a"}, "size": {"condition": {"test": "datum.h >= 1", "value": 13}, "value": 10}}}
     ]}},
   {"title": {"text": "fᵢ¹", "font": "Liberation Serif", "fontSize": 20, "fontStyle": "italic", "offset": 12, "dx": 2}, "transform": [{"filter": "datum.g == 'm2' && datum.f == 1"}],
    "facet": {"row": {"field": "r", "type": "nominal", "title": null, "sort": ["Germ", "Lim", "Bnab"], "header": {"labels": false}}},
    "spacing": {"row": 27}, "resolve": {"axis": {"x": "independent"}},
    "spec": {"width": 39, "height": 128,
     "encoding": {"x": {"field": "p", "type": "ordinal", "title": null, "axis": {"labelFont": "Liberation Serif"}}, "y": {"field": "y0", "type": "quantitative", "title": null, "scale": {"domain": [0, 4.3], "nice": false}, "axis": {"labels": false}}},
     "layer": [
      {"mark": {"type": "bar", "stroke": "white"}, "encoding": {"y2": {"field": "y1"}, "color": {"field": "a", "type": "nominal", "legend": null, "scale": {"domain": ["A","V","L","W","P","G","S","T","Y","N","K","R","H","D","E"], "range": ["#000000","#000000","#000000","#000000","#000000","#228b22","#228b22","#228b22","#228b22","#8b1c6e","#1414ff","#1414ff","#1414ff","#ff2020","#ff2020"]}}, "opacity": {"condition": [{"test": "datum.h < 0.08", "value": 0.3}, {"test": "datum.h < 0.15", "value": 0.5}, {"test": "datum.h < 0.4", "value": 0.75}], "value": 1}, "strokeWidth": {"condition": {"test": "datum.h >= 0.15", "value": 0.8}, "value": 0}}},
      {"transform": [{"filter": "datum.h >= 0.4"}], "mark": {"type": "text", "font": "Liberation Sans", "fontWeight": "bold", "fill": "white"}, "encoding": {"y": {"field": "ym", "type": "quantitative", "title": null}, "text": {"field": "a"}, "size": {"condition": {"test": "datum.h >= 1", "value": 13}, "value": 10}}}
     ]}},
   {"title": {"text": "fᵢ²", "font": "Liberation Serif", "fontSize": 20, "fontStyle": "italic", "offset": 12, "dx": 2}, "transform": [{"filter": "datum.g == 'm2' && datum.f == 2"}],
    "facet": {"row": {"field": "r", "type": "nominal", "title": null, "sort": ["Germ", "Lim", "Bnab"], "header": {"labels": false}}},
    "spacing": {"row": 27}, "resolve": {"axis": {"x": "independent"}},
    "spec": {"width": 39, "height": 128,
     "encoding": {"x": {"field": "p", "type": "ordinal", "title": null, "axis": {"labelFont": "Liberation Serif"}}, "y": {"field": "y0", "type": "quantitative", "title": null, "scale": {"domain": [0, 4.3], "nice": false}, "axis": {"labels": false}}},
     "layer": [
      {"mark": {"type": "bar", "stroke": "white"}, "encoding": {"y2": {"field": "y1"}, "color": {"field": "a", "type": "nominal", "legend": null, "scale": {"domain": ["A","V","L","W","P","G","S","T","Y","N","K","R","H","D","E"], "range": ["#000000","#000000","#000000","#000000","#000000","#228b22","#228b22","#228b22","#228b22","#8b1c6e","#1414ff","#1414ff","#1414ff","#ff2020","#ff2020"]}}, "opacity": {"condition": [{"test": "datum.h < 0.08", "value": 0.3}, {"test": "datum.h < 0.15", "value": 0.5}, {"test": "datum.h < 0.4", "value": 0.75}], "value": 1}, "strokeWidth": {"condition": {"test": "datum.h >= 0.15", "value": 0.8}, "value": 0}}},
      {"transform": [{"filter": "datum.h >= 0.4"}], "mark": {"type": "text", "font": "Liberation Sans", "fontWeight": "bold", "fill": "white"}, "encoding": {"y": {"field": "ym", "type": "quantitative", "title": null}, "text": {"field": "a"}, "size": {"condition": {"test": "datum.h >= 1", "value": 13}, "value": 10}}}
     ]}},
   {"title": {"text": "fᵢ³", "font": "Liberation Serif", "fontSize": 20, "fontStyle": "italic", "offset": 12, "dx": 2}, "transform": [{"filter": "datum.g == 'm2' && datum.f == 3"}],
    "facet": {"row": {"field": "r", "type": "nominal", "title": null, "sort": ["Germ", "Lim", "Bnab"], "header": {"labels": false}}},
    "spacing": {"row": 27}, "resolve": {"axis": {"x": "independent"}},
    "spec": {"width": 39, "height": 128,
     "encoding": {"x": {"field": "p", "type": "ordinal", "title": null, "axis": {"labelFont": "Liberation Serif"}}, "y": {"field": "y0", "type": "quantitative", "title": null, "scale": {"domain": [0, 4.3], "nice": false}, "axis": {"labels": false}}},
     "layer": [
      {"mark": {"type": "bar", "stroke": "white"}, "encoding": {"y2": {"field": "y1"}, "color": {"field": "a", "type": "nominal", "legend": null, "scale": {"domain": ["A","V","L","W","P","G","S","T","Y","N","K","R","H","D","E"], "range": ["#000000","#000000","#000000","#000000","#000000","#228b22","#228b22","#228b22","#228b22","#8b1c6e","#1414ff","#1414ff","#1414ff","#ff2020","#ff2020"]}}, "opacity": {"condition": [{"test": "datum.h < 0.08", "value": 0.3}, {"test": "datum.h < 0.15", "value": 0.5}, {"test": "datum.h < 0.4", "value": 0.75}], "value": 1}, "strokeWidth": {"condition": {"test": "datum.h >= 0.15", "value": 0.8}, "value": 0}}},
      {"transform": [{"filter": "datum.h >= 0.4"}], "mark": {"type": "text", "font": "Liberation Sans", "fontWeight": "bold", "fill": "white"}, "encoding": {"y": {"field": "ym", "type": "quantitative", "title": null}, "text": {"field": "a"}, "size": {"condition": {"test": "datum.h >= 1", "value": 13}, "value": 10}}}
     ]}}
  ]}
 ]},
 {"spacing": 45, "hconcat": [
  {"title": {"text": "DNA1 (alone)", "font": "Liberation Serif", "fontSize": 24, "offset": 26, "dx": 24}, "spacing": 1, "hconcat": [
   {"title": {"text": "fᵢ¹", "font": "Liberation Serif", "fontSize": 20, "fontStyle": "italic", "offset": 12, "dx": 13}, "transform": [{"filter": "datum.g == 'a1' && datum.f == 1"}],
    "facet": {"row": {"field": "r", "type": "nominal", "title": null, "sort": ["Germ", "Lim", "Bnab"], "header": {"labels": false}}},
    "spacing": {"row": 27}, "resolve": {"axis": {"x": "independent"}},
    "spec": {"width": 44, "height": 128,
     "encoding": {"x": {"field": "p", "type": "ordinal", "title": null, "axis": {"labelFont": "Liberation Serif"}}, "y": {"field": "y0", "type": "quantitative", "title": null, "scale": {"domain": [0, 4.3], "nice": false}, "axis": {"labelFont": "Liberation Serif"}}},
     "layer": [
      {"mark": {"type": "bar", "stroke": "white"}, "encoding": {"y2": {"field": "y1"}, "color": {"field": "a", "type": "nominal", "legend": null, "scale": {"domain": ["A","V","L","W","P","G","S","T","Y","N","K","R","H","D","E"], "range": ["#000000","#000000","#000000","#000000","#000000","#228b22","#228b22","#228b22","#228b22","#8b1c6e","#1414ff","#1414ff","#1414ff","#ff2020","#ff2020"]}}, "opacity": {"condition": [{"test": "datum.h < 0.08", "value": 0.3}, {"test": "datum.h < 0.15", "value": 0.5}, {"test": "datum.h < 0.4", "value": 0.75}], "value": 1}, "strokeWidth": {"condition": {"test": "datum.h >= 0.15", "value": 0.8}, "value": 0}}},
      {"transform": [{"filter": "datum.h >= 0.4"}], "mark": {"type": "text", "font": "Liberation Sans", "fontWeight": "bold", "fill": "white"}, "encoding": {"y": {"field": "ym", "type": "quantitative", "title": null}, "text": {"field": "a"}, "size": {"condition": {"test": "datum.h >= 1", "value": 13}, "value": 10}}}
     ]}},
   {"title": {"text": "fᵢ²", "font": "Liberation Serif", "fontSize": 20, "fontStyle": "italic", "offset": 12, "dx": 2}, "transform": [{"filter": "datum.g == 'a1' && datum.f == 2"}],
    "facet": {"row": {"field": "r", "type": "nominal", "title": null, "sort": ["Germ", "Lim", "Bnab"], "header": {"labels": false}}},
    "spacing": {"row": 27}, "resolve": {"axis": {"x": "independent"}},
    "spec": {"width": 44, "height": 128,
     "encoding": {"x": {"field": "p", "type": "ordinal", "title": null, "axis": {"labelFont": "Liberation Serif"}}, "y": {"field": "y0", "type": "quantitative", "title": null, "scale": {"domain": [0, 4.3], "nice": false}, "axis": {"labels": false}}},
     "layer": [
      {"mark": {"type": "bar", "stroke": "white"}, "encoding": {"y2": {"field": "y1"}, "color": {"field": "a", "type": "nominal", "legend": null, "scale": {"domain": ["A","V","L","W","P","G","S","T","Y","N","K","R","H","D","E"], "range": ["#000000","#000000","#000000","#000000","#000000","#228b22","#228b22","#228b22","#228b22","#8b1c6e","#1414ff","#1414ff","#1414ff","#ff2020","#ff2020"]}}, "opacity": {"condition": [{"test": "datum.h < 0.08", "value": 0.3}, {"test": "datum.h < 0.15", "value": 0.5}, {"test": "datum.h < 0.4", "value": 0.75}], "value": 1}, "strokeWidth": {"condition": {"test": "datum.h >= 0.15", "value": 0.8}, "value": 0}}},
      {"transform": [{"filter": "datum.h >= 0.4"}], "mark": {"type": "text", "font": "Liberation Sans", "fontWeight": "bold", "fill": "white"}, "encoding": {"y": {"field": "ym", "type": "quantitative", "title": null}, "text": {"field": "a"}, "size": {"condition": {"test": "datum.h >= 1", "value": 13}, "value": 10}}}
     ]}},
   {"title": {"text": "fᵢ³", "font": "Liberation Serif", "fontSize": 20, "fontStyle": "italic", "offset": 12, "dx": 2}, "transform": [{"filter": "datum.g == 'a1' && datum.f == 3"}],
    "facet": {"row": {"field": "r", "type": "nominal", "title": null, "sort": ["Germ", "Lim", "Bnab"], "header": {"labels": false}}},
    "spacing": {"row": 27}, "resolve": {"axis": {"x": "independent"}},
    "spec": {"width": 44, "height": 128,
     "encoding": {"x": {"field": "p", "type": "ordinal", "title": null, "axis": {"labelFont": "Liberation Serif"}}, "y": {"field": "y0", "type": "quantitative", "title": null, "scale": {"domain": [0, 4.3], "nice": false}, "axis": {"labels": false}}},
     "layer": [
      {"mark": {"type": "bar", "stroke": "white"}, "encoding": {"y2": {"field": "y1"}, "color": {"field": "a", "type": "nominal", "legend": null, "scale": {"domain": ["A","V","L","W","P","G","S","T","Y","N","K","R","H","D","E"], "range": ["#000000","#000000","#000000","#000000","#000000","#228b22","#228b22","#228b22","#228b22","#8b1c6e","#1414ff","#1414ff","#1414ff","#ff2020","#ff2020"]}}, "opacity": {"condition": [{"test": "datum.h < 0.08", "value": 0.3}, {"test": "datum.h < 0.15", "value": 0.5}, {"test": "datum.h < 0.4", "value": 0.75}], "value": 1}, "strokeWidth": {"condition": {"test": "datum.h >= 0.15", "value": 0.8}, "value": 0}}},
      {"transform": [{"filter": "datum.h >= 0.4"}], "mark": {"type": "text", "font": "Liberation Sans", "fontWeight": "bold", "fill": "white"}, "encoding": {"y": {"field": "ym", "type": "quantitative", "title": null}, "text": {"field": "a"}, "size": {"condition": {"test": "datum.h >= 1", "value": 13}, "value": 10}}}
     ]}}
  ]},
  {"title": {"text": "DNA2 (alone)", "font": "Liberation Serif", "fontSize": 24, "offset": 26, "dx": 10}, "spacing": 1, "hconcat": [
   {"title": {"text": "fᵢ¹", "font": "Liberation Serif", "fontSize": 20, "fontStyle": "italic", "offset": 12, "dx": 11}, "transform": [{"filter": "datum.g == 'a2' && datum.f == 1"}],
    "facet": {"row": {"field": "r", "type": "nominal", "title": null, "sort": ["Germ", "Lim", "Bnab"], "header": {"labels": false}}},
    "spacing": {"row": 27}, "resolve": {"axis": {"x": "independent"}},
    "spec": {"width": 42, "height": 128,
     "encoding": {"x": {"field": "p", "type": "ordinal", "title": null, "axis": {"labelFont": "Liberation Serif"}}, "y": {"field": "y0", "type": "quantitative", "title": null, "scale": {"domain": [0, 4.3], "nice": false}, "axis": {"labelFont": "Liberation Serif"}}},
     "layer": [
      {"mark": {"type": "bar", "stroke": "white"}, "encoding": {"y2": {"field": "y1"}, "color": {"field": "a", "type": "nominal", "legend": null, "scale": {"domain": ["A","V","L","W","P","G","S","T","Y","N","K","R","H","D","E"], "range": ["#000000","#000000","#000000","#000000","#000000","#228b22","#228b22","#228b22","#228b22","#8b1c6e","#1414ff","#1414ff","#1414ff","#ff2020","#ff2020"]}}, "opacity": {"condition": [{"test": "datum.h < 0.08", "value": 0.3}, {"test": "datum.h < 0.15", "value": 0.5}, {"test": "datum.h < 0.4", "value": 0.75}], "value": 1}, "strokeWidth": {"condition": {"test": "datum.h >= 0.15", "value": 0.8}, "value": 0}}},
      {"transform": [{"filter": "datum.h >= 0.4"}], "mark": {"type": "text", "font": "Liberation Sans", "fontWeight": "bold", "fill": "white"}, "encoding": {"y": {"field": "ym", "type": "quantitative", "title": null}, "text": {"field": "a"}, "size": {"condition": {"test": "datum.h >= 1", "value": 13}, "value": 10}}}
     ]}},
   {"title": {"text": "fᵢ²", "font": "Liberation Serif", "fontSize": 20, "fontStyle": "italic", "offset": 12, "dx": 2}, "transform": [{"filter": "datum.g == 'a2' && datum.f == 2"}],
    "facet": {"row": {"field": "r", "type": "nominal", "title": null, "sort": ["Germ", "Lim", "Bnab"], "header": {"labels": false}}},
    "spacing": {"row": 27}, "resolve": {"axis": {"x": "independent"}},
    "spec": {"width": 42, "height": 128,
     "encoding": {"x": {"field": "p", "type": "ordinal", "title": null, "axis": {"labelFont": "Liberation Serif"}}, "y": {"field": "y0", "type": "quantitative", "title": null, "scale": {"domain": [0, 4.3], "nice": false}, "axis": {"labels": false}}},
     "layer": [
      {"mark": {"type": "bar", "stroke": "white"}, "encoding": {"y2": {"field": "y1"}, "color": {"field": "a", "type": "nominal", "legend": null, "scale": {"domain": ["A","V","L","W","P","G","S","T","Y","N","K","R","H","D","E"], "range": ["#000000","#000000","#000000","#000000","#000000","#228b22","#228b22","#228b22","#228b22","#8b1c6e","#1414ff","#1414ff","#1414ff","#ff2020","#ff2020"]}}, "opacity": {"condition": [{"test": "datum.h < 0.08", "value": 0.3}, {"test": "datum.h < 0.15", "value": 0.5}, {"test": "datum.h < 0.4", "value": 0.75}], "value": 1}, "strokeWidth": {"condition": {"test": "datum.h >= 0.15", "value": 0.8}, "value": 0}}},
      {"transform": [{"filter": "datum.h >= 0.4"}], "mark": {"type": "text", "font": "Liberation Sans", "fontWeight": "bold", "fill": "white"}, "encoding": {"y": {"field": "ym", "type": "quantitative", "title": null}, "text": {"field": "a"}, "size": {"condition": {"test": "datum.h >= 1", "value": 13}, "value": 10}}}
     ]}},
   {"title": {"text": "fᵢ³", "font": "Liberation Serif", "fontSize": 20, "fontStyle": "italic", "offset": 12, "dx": 2}, "transform": [{"filter": "datum.g == 'a2' && datum.f == 3"}],
    "facet": {"row": {"field": "r", "type": "nominal", "title": null, "sort": ["Germ", "Lim", "Bnab"], "header": {"labels": false}}},
    "spacing": {"row": 27}, "resolve": {"axis": {"x": "independent"}},
    "spec": {"width": 42, "height": 128,
     "encoding": {"x": {"field": "p", "type": "ordinal", "title": null, "axis": {"labelFont": "Liberation Serif"}}, "y": {"field": "y0", "type": "quantitative", "title": null, "scale": {"domain": [0, 4.3], "nice": false}, "axis": {"labels": false}}},
     "layer": [
      {"mark": {"type": "bar", "stroke": "white"}, "encoding": {"y2": {"field": "y1"}, "color": {"field": "a", "type": "nominal", "legend": null, "scale": {"domain": ["A","V","L","W","P","G","S","T","Y","N","K","R","H","D","E"], "range": ["#000000","#000000","#000000","#000000","#000000","#228b22","#228b22","#228b22","#228b22","#8b1c6e","#1414ff","#1414ff","#1414ff","#ff2020","#ff2020"]}}, "opacity": {"condition": [{"test": "datum.h < 0.08", "value": 0.3}, {"test": "datum.h < 0.15", "value": 0.5}, {"test": "datum.h < 0.4", "value": 0.75}], "value": 1}, "strokeWidth": {"condition": {"test": "datum.h >= 0.15", "value": 0.8}, "value": 0}}},
      {"transform": [{"filter": "datum.h >= 0.4"}], "mark": {"type": "text", "font": "Liberation Sans", "fontWeight": "bold", "fill": "white"}, "encoding": {"y": {"field": "ym", "type": "quantitative", "title": null}, "text": {"field": "a"}, "size": {"condition": {"test": "datum.h >= 1", "value": 13}, "value": 10}}}
     ]}}
  ]}
 ]}
],
"config": {
 "view": {"stroke": null},
 "font": "Liberation Serif",
 "style": {"guide-label": {"font": "Liberation Serif"}, "group-title": {"font": "Liberation Serif"}},
 "title": {"font": "Liberation Serif", "fontWeight": "normal", "color": "#000000", "anchor": "middle"},
 "scale": {"bandPaddingInner": 0.06, "bandPaddingOuter": 0.12},
 "axis": {"grid": false, "labelFont": "Liberation Serif", "labelColor": "#222222"},
 "axisX": {"domain": false, "ticks": false, "labelAngle": 0, "labelFont": "Liberation Serif", "labelFontSize": 13, "labelPadding": 2},
 "axisY": {"tickCount": 22, "labelFont": "Liberation Serif", "labelFontSize": 13, "domainColor": "#000000", "domainWidth": 1.5, "tickColor": "#000000", "tickWidth": 1, "labelPadding": 2, "labelFlush": false, "labelOverlap": false,
   "labelExpr": "abs(datum.value - round(datum.value)) < 0.001 ? format(datum.value, '.1f') : ''",
   "tickSize": {"condition": {"test": "abs(datum.value - round(datum.value)) < 0.001", "value": 4}, "value": 2.5}},
 "header": {"labelFont": "Liberation Serif", "labelFontSize": 22}
}
}
